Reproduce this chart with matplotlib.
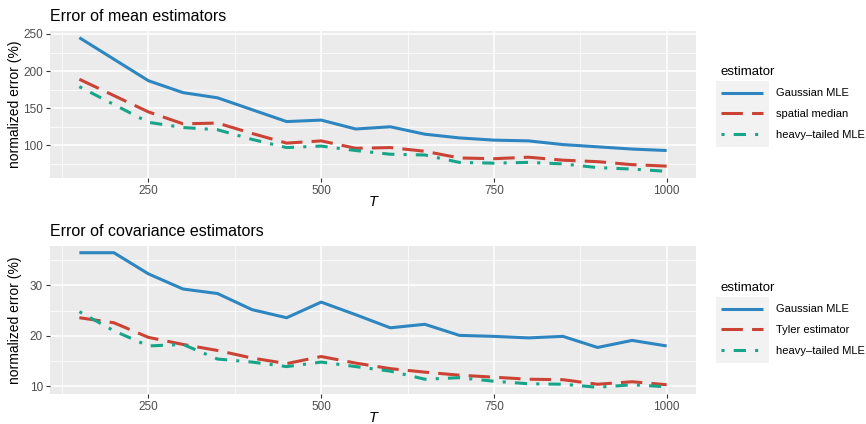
import numpy as np
import matplotlib
matplotlib.use("Agg")
import matplotlib.pyplot as plt
from matplotlib.patches import Rectangle

plt.rcParams['font.family'] = ['Liberation Sans', 'DejaVu Sans']

# sample sizes
T = [150, 200, 250, 300, 350, 400, 450, 500, 550, 600,
     650, 700, 750, 800, 850, 900, 950, 1000]

# normalized error (%) of the mean estimators
mean_gauss = [245, 216, 187, 171, 164, 148, 132, 134, 122, 125,
              115, 110, 107, 106, 101, 98, 95, 93]
mean_spatial = [189, 167, 145, 129, 130, 116, 103, 106, 96, 97,
                92, 83, 82, 84, 80, 78, 74, 72]
mean_heavy = [179, 155, 131, 124, 121, 108, 97, 99, 93, 88,
              87, 77, 76, 77, 75, 70, 68, 65]

# normalized error (%) of the covariance estimators
cov_gauss = [36.5, 36.5, 32.3, 29.3, 28.4, 25.2, 23.6, 26.7, 24.2, 21.6,
             22.3, 20.1, 19.9, 19.6, 19.9, 17.7, 19.1, 18.0]
cov_tyler = [23.6, 22.6, 19.7, 18.3, 17.1, 15.6, 14.5, 15.9, 14.6, 13.5,
             12.8, 12.2, 11.8, 11.4, 11.3, 10.4, 10.9, 10.3]
cov_heavy = [24.8, 21.0, 18.0, 18.3, 15.4, 14.8, 13.9, 14.8, 13.9, 13.0,
             11.4, 11.7, 11.0, 10.5, 10.4, 9.8, 10.3, 9.9]

mean_labels = ["Gaussian MLE", "spatial median", "heavy\u2013tailed MLE"]
cov_labels = ["Gaussian MLE", "Tyler estimator", "heavy\u2013tailed MLE"]

colors = ["#2E86C1", "#CB4335", "#17A589"]
dashes = [None, (7, 3), (1, 3, 4, 3)]
lw = 2.2

W, H = 866, 424
fig = plt.figure(figsize=(W / 100, H / 100), dpi=100)


def px_rect(left, top, right, bottom):
    return [left / W, 1 - bottom / H, (right - left) / W, (bottom - top) / H]


def panel(rect, series, labels, title, yticks, yminor, leg_top):
    ax = fig.add_axes(px_rect(*rect))
    ax.set_facecolor("#EBEBEB")
    for vals, lab, c, d in zip(series, labels, colors, dashes):
        line, = ax.plot(T, vals, color=c, lw=lw, label=lab,
                        solid_capstyle="butt", dash_capstyle="butt")
        if d is not None:
            line.set_dashes(d)
    ax.margins(x=0.05, y=0.05)
    ax.set_xticks([250, 500, 750, 1000])
    ax.set_xticks([125, 375, 625, 875], minor=True)
    ax.set_yticks(yticks)
    ax.set_yticks(yminor, minor=True)
    ax.grid(which="major", color="white", lw=1.1)
    ax.grid(which="minor", color="white", lw=0.55)
    ax.set_axisbelow(True)
    for s in ax.spines.values():
        s.set_visible(False)
    ax.tick_params(which="major", length=3, width=0.8, color="#333333",
                   labelsize=8.5, labelcolor="#4D4D4D", pad=2)
    ax.tick_params(which="minor", length=0)

    h = rect[3] - rect[1]
    wd = rect[2] - rect[0]
    ax.set_xlabel("T", fontstyle="italic", fontsize=10.5)
    ax.xaxis.set_label_coords(0.5, -17 / h)
    ax.set_ylabel("normalized error (%)", fontsize=10)
    ax.yaxis.set_label_coords(-(rect[0] - 22) / wd, 0.5)
    ax.set_title(title, loc="left", fontsize=11.5, pad=7)

    # legend keys sit on a light grey box
    box_top = leg_top + 12
    fig.patches.append(Rectangle((716 / W, 1 - (box_top + 66) / H), 53 / W, 66 / H,
                                 transform=fig.transFigure, facecolor="#F2F2F2",
                                 edgecolor="none", zorder=-1))
    ax.legend(loc="upper left", bbox_to_anchor=(712 / W, 1 - (leg_top - 12) / H),
              bbox_transform=fig.transFigure, frameon=False, title="estimator",
              fontsize=8, title_fontsize=9.5, alignment="left",
              handlelength=3.8, handletextpad=1.2, labelspacing=0.95,
              borderpad=0.3)
    return ax


panel((50, 31, 696, 178), [mean_gauss, mean_spatial, mean_heavy], mean_labels,
      "Error of mean estimators", [100, 150, 200, 250], [75, 125, 175, 225], 69)
panel((50, 246, 696, 394), [cov_gauss, cov_tyler, cov_heavy], cov_labels,
      "Error of covariance estimators", [10, 20, 30], [15, 25, 35], 285)

fig.savefig("out.png", dpi=100)
